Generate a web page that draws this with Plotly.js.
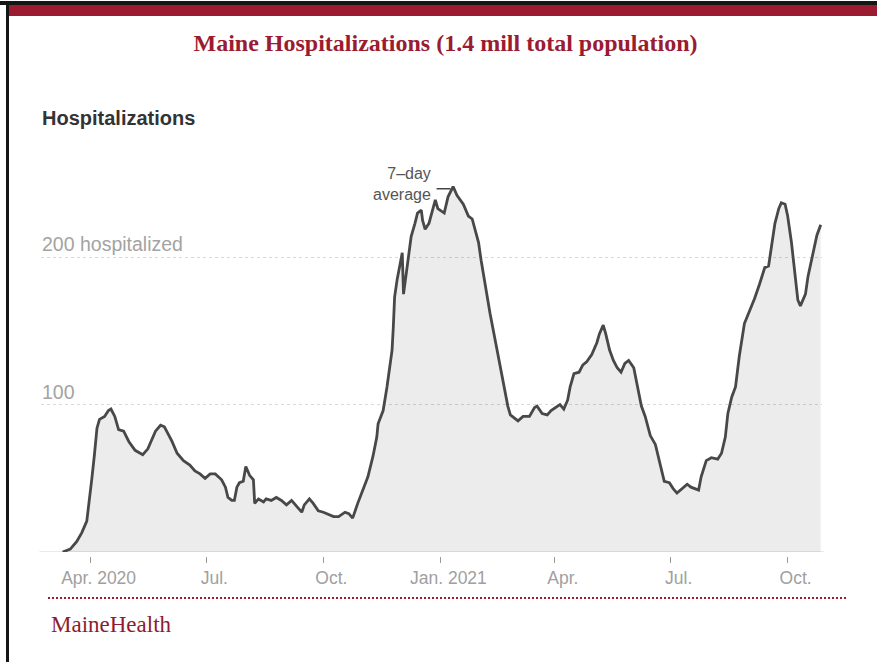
<!DOCTYPE html>
<html>
<head>
<meta charset="utf-8">
<script src="https://cdn.plot.ly/plotly-3.0.1.min.js"></script>
<style>
  html, body { margin: 0; padding: 0; background: #ffffff; overflow: hidden; }
  #wrap { position: relative; width: 877px; height: 662px; }
  #chart { position: absolute; left: 0; top: 0; width: 877px; height: 662px; }
  .deco { position: absolute; pointer-events: none; z-index: 5; }
  #topBlack { left: 0; top: 1px; width: 877px; height: 4px; background: #151515; }
  #topRed { left: 9px; top: 5px; width: 868px; height: 11px; background: #9b1c31; }
  #leftBorder { left: 6px; top: 1px; width: 3px; height: 661px; background: #151515; }
  #dotted { left: 48px; top: 597px; width: 798px; height: 0; border-top: 2px dotted #9b1c31; }
</style>
</head>
<body>
<div id="wrap">
  <div id="chart"></div>
  <div class="deco" id="topBlack"></div>
  <div class="deco" id="topRed"></div>
  <div class="deco" id="leftBorder"></div>
  <div class="deco" id="dotted"></div>
</div>
<script>
// 7-day average of hospitalized patients in Maine
const dates = [
  '2020-03-10','2020-03-16','2020-03-21','2020-03-25','2020-03-29','2020-03-31',
  '2020-04-02','2020-04-04','2020-04-06','2020-04-08','2020-04-12','2020-04-15','2020-04-17',
  '2020-04-20','2020-04-23','2020-04-27','2020-05-01','2020-05-06','2020-05-10','2020-05-12',
  '2020-05-16','2020-05-22','2020-05-26','2020-05-29','2020-06-04','2020-06-08','2020-06-13',
  '2020-06-18','2020-06-22','2020-06-26','2020-06-30','2020-07-04','2020-07-08','2020-07-13',
  '2020-07-16','2020-07-18','2020-07-21','2020-07-23','2020-07-25','2020-07-27','2020-07-30',
  '2020-08-01','2020-08-04','2020-08-07','2020-08-08','2020-08-11','2020-08-15','2020-08-17',
  '2020-08-21','2020-08-25','2020-08-29','2020-09-02','2020-09-06','2020-09-10','2020-09-14',
  '2020-09-16','2020-09-20','2020-09-23','2020-09-27','2020-10-01','2020-10-04','2020-10-09',
  '2020-10-13','2020-10-18','2020-10-21','2020-10-24','2020-10-28','2020-11-01','2020-11-05',
  '2020-11-09','2020-11-12','2020-11-13','2020-11-17','2020-11-20','2020-11-22','2020-11-24',
  '2020-11-25','2020-11-26','2020-11-28','2020-11-30','2020-12-02','2020-12-03','2020-12-05',
  '2020-12-07','2020-12-09','2020-12-12','2020-12-14','2020-12-17','2020-12-18','2020-12-20',
  '2020-12-23','2020-12-28','2020-12-30','2021-01-04','2021-01-07','2021-01-11','2021-01-14',
  '2021-01-19','2021-01-23','2021-01-26','2021-01-28','2021-01-31','2021-02-02','2021-02-05',
  '2021-02-09','2021-02-13','2021-02-17','2021-02-20','2021-02-23','2021-02-25','2021-03-01',
  '2021-03-03','2021-03-07','2021-03-12','2021-03-16','2021-03-18','2021-03-22','2021-03-26',
  '2021-03-29','2021-04-02','2021-04-05','2021-04-08','2021-04-11','2021-04-13','2021-04-16',
  '2021-04-20','2021-04-23','2021-04-26','2021-04-30','2021-05-04','2021-05-06','2021-05-09',
  '2021-05-11','2021-05-14','2021-05-17','2021-05-20','2021-05-23','2021-05-26','2021-05-29',
  '2021-06-02','2021-06-05','2021-06-08','2021-06-11','2021-06-15','2021-06-19','2021-06-21',
  '2021-06-24','2021-06-26','2021-06-30','2021-07-03','2021-07-06','2021-07-10','2021-07-14',
  '2021-07-17','2021-07-23','2021-07-25','2021-07-29','2021-08-02','2021-08-07','2021-08-10',
  '2021-08-13','2021-08-15','2021-08-18','2021-08-21','2021-08-24','2021-08-28','2021-09-01',
  '2021-09-05','2021-09-09','2021-09-13','2021-09-16','2021-09-18','2021-09-21','2021-09-24',
  '2021-09-26','2021-09-29','2021-10-01','2021-10-04','2021-10-07','2021-10-09','2021-10-11',
  '2021-10-15','2021-10-17','2021-10-21','2021-10-24','2021-10-27'
];
const hospitalized = [
  0, 2, 7, 13, 21, 34,
  50, 66, 84, 90, 92, 96, 97,
  92, 83, 82, 75, 69, 67, 66,
  70, 82, 86, 85, 75, 67, 62,
  59, 55, 53, 50, 53, 53, 49,
  44, 37, 35, 35, 44, 47, 48,
  58, 52, 49, 33, 36, 34, 36,
  35, 37, 35, 32, 35, 31, 27,
  32, 36, 33, 28, 27, 26, 24,
  24, 27, 26, 23, 33, 42, 51,
  65, 78, 87, 96, 112, 126, 137,
  153, 173, 185, 194, 203, 175, 187,
  200, 214, 223, 230, 232, 225, 219,
  223, 239, 233, 230, 241, 248, 242,
  236, 228, 226, 219, 210, 198, 182,
  162, 144, 126, 112, 99, 93, 90,
  89, 92, 92, 98, 99, 94, 93,
  96, 98, 100, 97, 103, 112, 121,
  122, 127, 129, 134, 142, 148, 154,
  148, 137, 130, 125, 122, 128, 130,
  125, 112, 99, 92, 79, 73, 66,
  56, 48, 47, 43, 40, 43, 46,
  44, 42, 51, 62, 64, 63, 67,
  78, 94, 105, 112, 133, 155, 163,
  172, 182, 193, 194, 207, 223, 233,
  237, 236, 228, 210, 187, 171, 167,
  175, 187, 203, 215, 222
];

const tickDates = ['2020-04-01','2020-07-01','2020-10-01','2021-01-01','2021-04-01','2021-07-01','2021-10-01'];
const tickLabels = ['Apr. 2020','Jul.','Oct.','Jan. 2021','Apr.','Jul.','Oct.'];
const gridValues = [100, 200];
const gridLabels = ['100', '200 hospitalized'];

const SANS = 'Liberation Sans, Arial, sans-serif';
const SERIF = 'Liberation Serif, Times New Roman, serif';

const trace = {
  x: dates,
  y: hospitalized,
  type: 'scatter',
  mode: 'lines',
  fill: 'tozeroy',
  fillcolor: 'rgba(0,0,0,0.075)',
  line: { color: '#484848', width: 2.8 },
  hoverinfo: 'x+y'
};

const annotations = gridValues.map((v, i) => ({
  xref: 'paper', x: 0, xanchor: 'left',
  yref: 'y', y: v, yanchor: 'bottom',
  text: gridLabels[i], showarrow: false,
  font: { family: SANS, size: 19.5, color: '#a3a3a3' },
  xshift: -1, yshift: 0
}));

annotations.push({
  xref: 'paper', x: 0, xanchor: 'left',
  yref: 'paper', y: 1.106, yanchor: 'middle',
  text: '<b>Hospitalizations</b>', showarrow: false,
  font: { family: SANS, size: 20, color: '#333333' },
  xshift: -1
});
annotations.push({
  xref: 'x', x: '2020-12-26', xanchor: 'right',
  yref: 'y', y: 250, yanchor: 'middle',
  text: '7–day<br>average', align: 'right', showarrow: false,
  font: { family: SANS, size: 16, color: '#555555' }
});
annotations.push({
  xref: 'paper', x: 0.0102, xanchor: 'left',
  yref: 'paper', y: -0.174, yanchor: 'middle',
  text: 'MaineHealth', showarrow: false,
  font: { family: SERIF, size: 23, color: '#8e1b2f' }
});

const layout = {
  width: 877,
  height: 662,
  margin: { l: 41, r: 55, t: 160, b: 106 },
  paper_bgcolor: '#ffffff',
  plot_bgcolor: 'rgba(0,0,0,0)',
  showlegend: false,
  title: {
    text: '<b>Maine Hospitalizations (1.4 mill total population)</b>',
    font: { family: SERIF, size: 24, color: '#9b1b30' },
    xref: 'container', x: 0.508, xanchor: 'center',
    yref: 'container', y: 0.935, yanchor: 'middle'
  },
  xaxis: {
    type: 'date',
    range: ['2020-02-22', '2021-10-28'],
    tickmode: 'array',
    tickvals: tickDates,
    ticktext: tickLabels,
    ticks: 'outside',
    ticklen: 6,
    tickwidth: 1,
    tickcolor: '#9a9a9a',
    tickfont: { family: SANS, size: 17.5, color: '#a0a0a0' },
    ticklabelshift: 8,
    showgrid: false,
    showline: false,
    zeroline: false,
    anchor: 'free',
    position: 0,
    fixedrange: true
  },
  yaxis: {
    range: [0, 266],
    domain: [0.0101, 1],
    tickmode: 'array',
    tickvals: gridValues,
    showticklabels: false,
    ticks: '',
    showgrid: true,
    gridcolor: '#d9d9d9',
    gridwidth: 1,
    griddash: '3px,3px',
    zeroline: false,
    showline: false,
    fixedrange: true
  },
  shapes: [
    {
      type: 'line', xref: 'paper', x0: -0.002, x1: 1.003,
      yref: 'y', y0: 0, y1: 0,
      line: { color: '#d4d4d4', width: 1 }, layer: 'below'
    },
    {
      type: 'line', xref: 'x', x0: '2020-12-29', x1: '2021-01-09',
      yref: 'y', y0: 246.5, y1: 246.5,
      line: { color: '#444444', width: 1.5 }
    }
  ],
  annotations: annotations
};

Plotly.newPlot('chart', [trace], layout, { displayModeBar: false, staticPlot: true });
</script>
</body>
</html>
